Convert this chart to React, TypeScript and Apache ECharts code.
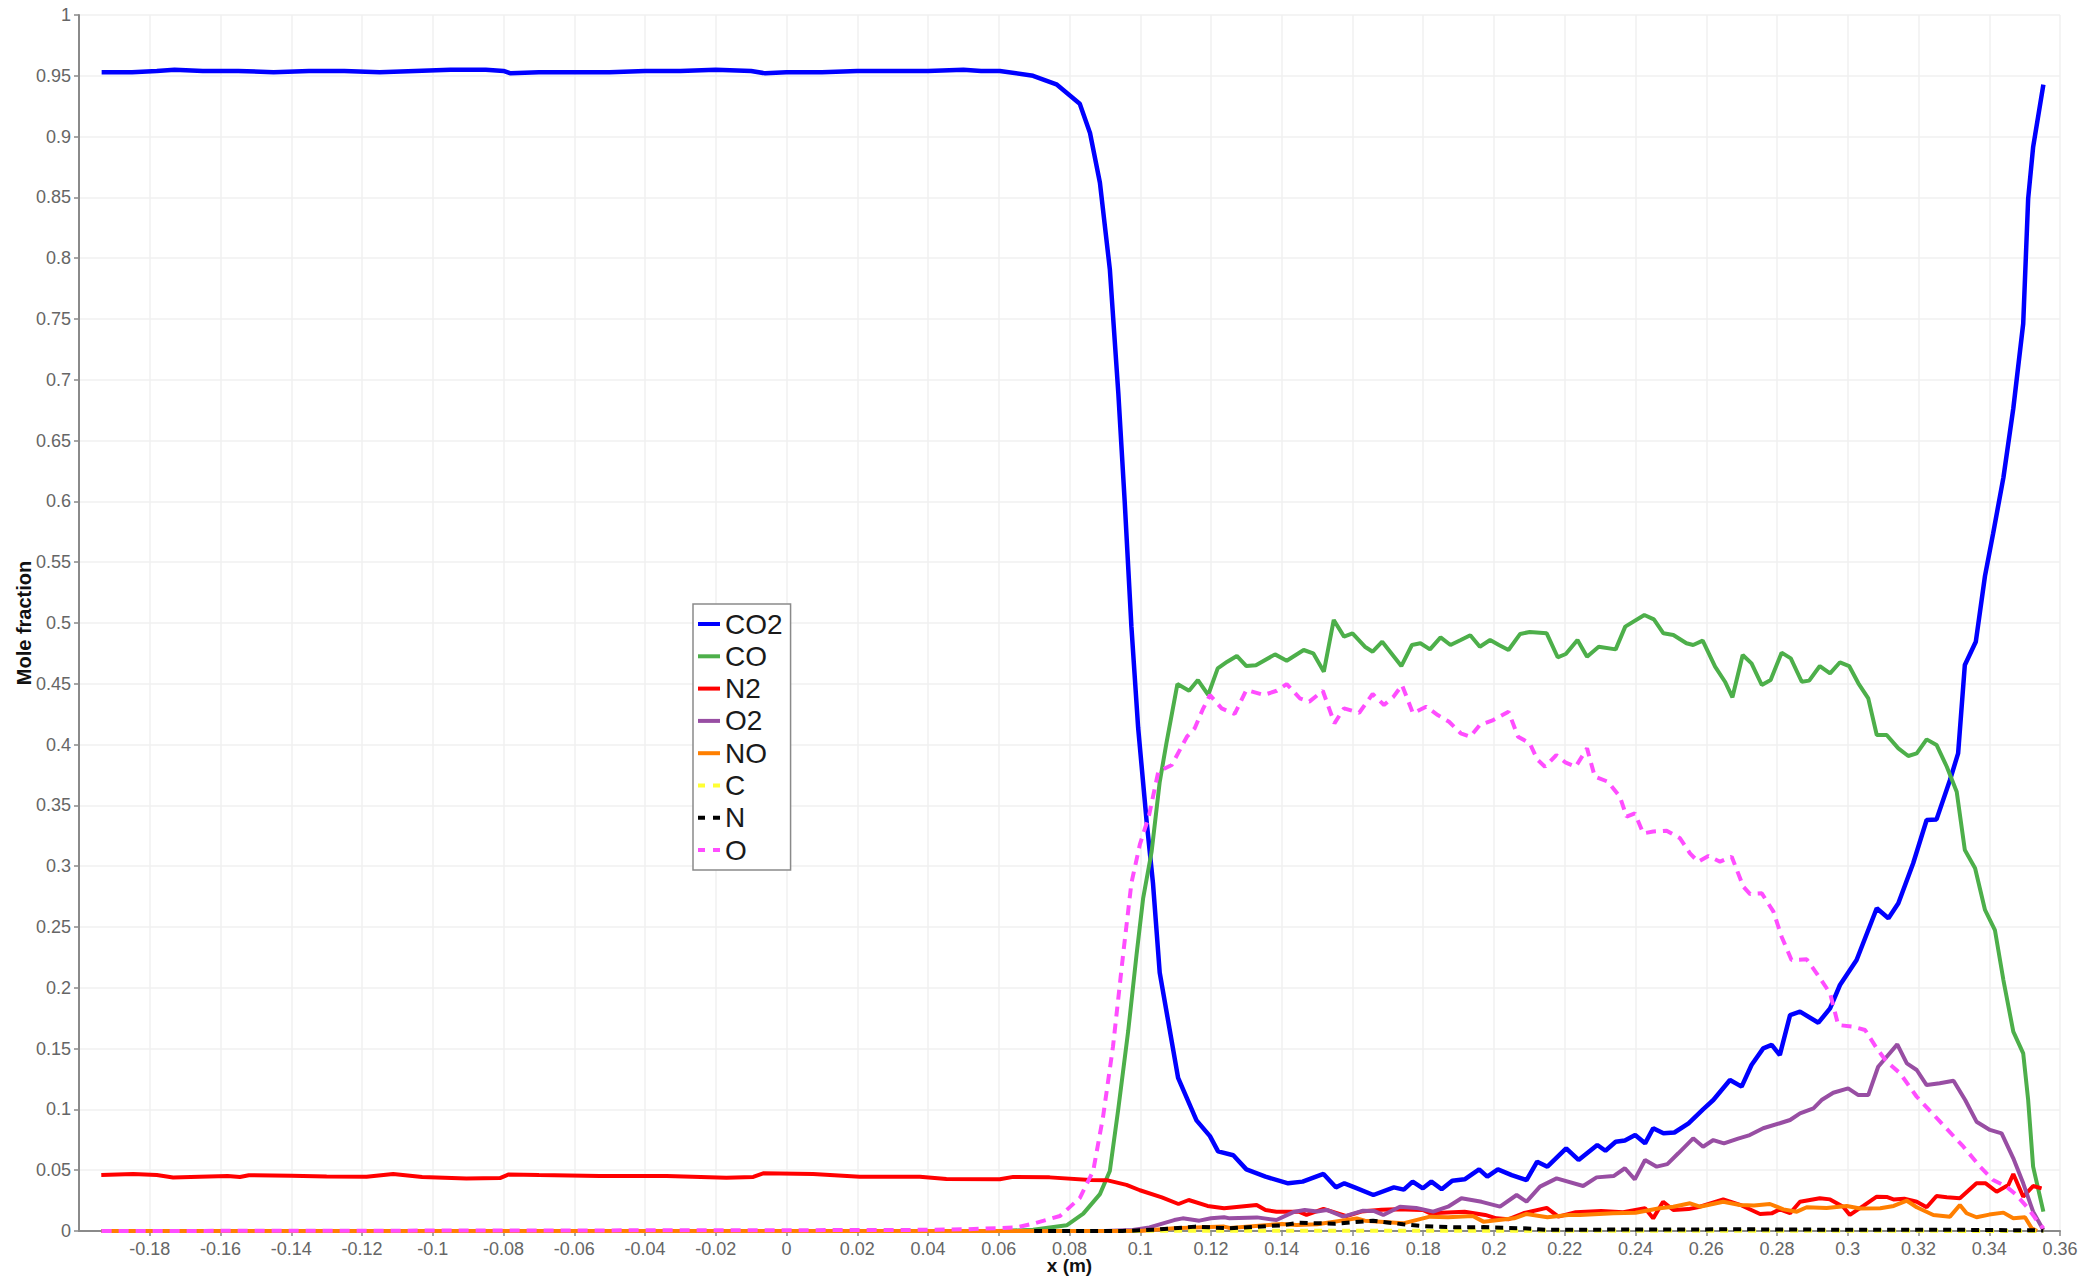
import { useEffect, useRef } from 'react';
import * as echarts from 'echarts';

type Pt = [number, number];

// x ticks (m) and y ticks (mole fraction)
const xMin = -0.2;
const xMax = 0.36;
const xStep = 0.02;
const yMin = 0;
const yMax = 1;
const yStep = 0.05;

const seriesNames = ['CO2', 'CO', 'N2', 'O2', 'NO', 'C', 'N', 'O'];

const co2: Pt[] = [
  [-0.1936, 0.953], [-0.185, 0.953], [-0.178, 0.954], [-0.173, 0.955], [-0.165, 0.954], [-0.155, 0.954],
  [-0.145, 0.953], [-0.135, 0.954], [-0.125, 0.954], [-0.115, 0.953], [-0.105, 0.954], [-0.095, 0.955],
  [-0.085, 0.955], [-0.08, 0.954], [-0.078, 0.952], [-0.07, 0.953], [-0.06, 0.953], [-0.05, 0.953],
  [-0.04, 0.954], [-0.03, 0.954], [-0.02, 0.955], [-0.01, 0.954], [-0.006, 0.952], [0.0, 0.953],
  [0.01, 0.953], [0.02, 0.954], [0.03, 0.954], [0.04, 0.954], [0.05, 0.955], [0.055, 0.954],
  [0.0603, 0.954], [0.0697, 0.95], [0.0763, 0.943], [0.0829, 0.927], [0.0858, 0.903], [0.0886, 0.862],
  [0.0914, 0.791], [0.0938, 0.689], [0.0956, 0.6], [0.0975, 0.497], [0.0994, 0.414], [0.1018, 0.337],
  [0.1036, 0.286], [0.1055, 0.2125], [0.1107, 0.126], [0.1159, 0.091], [0.1197, 0.078], [0.122, 0.0655],
  [0.1263, 0.0623], [0.13, 0.0507], [0.1354, 0.0447], [0.1418, 0.0392], [0.1459, 0.0406], [0.1518, 0.0469],
  [0.1553, 0.0359], [0.1577, 0.0392], [0.1606, 0.0359], [0.1659, 0.0296], [0.1717, 0.0359], [0.1745, 0.034],
  [0.177, 0.0406], [0.1799, 0.0351], [0.1823, 0.0406], [0.1852, 0.0343], [0.1882, 0.0414], [0.1917, 0.0425],
  [0.1958, 0.0507], [0.1981, 0.0447], [0.2011, 0.0507], [0.205, 0.046], [0.2092, 0.0419], [0.2122, 0.057],
  [0.2151, 0.0529], [0.2204, 0.068], [0.2239, 0.0584], [0.2292, 0.0707], [0.2315, 0.066], [0.2344, 0.0734],
  [0.237, 0.0745], [0.2399, 0.0789], [0.2427, 0.0721], [0.245, 0.0845], [0.2479, 0.0803], [0.251, 0.081],
  [0.255, 0.0886], [0.2591, 0.1], [0.262, 0.1077], [0.2667, 0.1242], [0.27, 0.1187], [0.2728, 0.1365],
  [0.2761, 0.1502], [0.2785, 0.153], [0.2808, 0.1447], [0.2837, 0.1776], [0.2865, 0.1804], [0.2917, 0.1713],
  [0.295, 0.1831], [0.2978, 0.2023], [0.3025, 0.2229], [0.3082, 0.2654], [0.3115, 0.2572], [0.3143, 0.2695],
  [0.3185, 0.3024], [0.3223, 0.338], [0.3251, 0.3385], [0.3289, 0.3709], [0.3312, 0.3928], [0.3331, 0.4655],
  [0.3362, 0.4846], [0.3388, 0.5388], [0.3411, 0.5737], [0.344, 0.6196], [0.3468, 0.6765], [0.3496, 0.7462],
  [0.351, 0.849], [0.3524, 0.8913], [0.3553, 0.9427],
];

const co: Pt[] = [
  [-0.1936, 0], [0.06, 0], [0.0697, 0.001], [0.0792, 0.0047], [0.0839, 0.0143], [0.0886, 0.0303],
  [0.0914, 0.0494], [0.0938, 0.1006], [0.0966, 0.1646], [0.099, 0.2285], [0.1008, 0.2733], [0.1032, 0.3117],
  [0.1055, 0.3692], [0.1074, 0.4012], [0.1105, 0.4498], [0.1138, 0.4443], [0.1163, 0.4531], [0.1192, 0.4408],
  [0.1219, 0.4627], [0.1246, 0.4682], [0.1273, 0.4729], [0.13, 0.4646], [0.1327, 0.4652], [0.1381, 0.4742],
  [0.1414, 0.469], [0.1462, 0.4778], [0.1489, 0.4751], [0.1519, 0.46], [0.1547, 0.5025], [0.1576, 0.4888],
  [0.16, 0.4915], [0.1635, 0.4805], [0.1657, 0.4764], [0.1684, 0.4846], [0.1738, 0.4646], [0.1768, 0.4819],
  [0.1792, 0.4833], [0.1819, 0.4783], [0.1849, 0.4882], [0.1877, 0.4819], [0.1906, 0.486], [0.1933, 0.4899],
  [0.196, 0.4805], [0.1989, 0.486], [0.2014, 0.4819], [0.2041, 0.4778], [0.2074, 0.491], [0.2101, 0.4926],
  [0.2149, 0.4915], [0.218, 0.4718], [0.2203, 0.4745], [0.2236, 0.486], [0.2263, 0.4723], [0.2296, 0.4805],
  [0.2344, 0.4783], [0.2371, 0.497], [0.2425, 0.5066], [0.2452, 0.503], [0.2479, 0.4915], [0.2507, 0.4901],
  [0.2544, 0.4833], [0.2563, 0.4819], [0.259, 0.4855], [0.2625, 0.4641], [0.2653, 0.4517], [0.2674, 0.4389],
  [0.2703, 0.4737], [0.2728, 0.4668], [0.2757, 0.449], [0.2782, 0.4531], [0.2813, 0.4756], [0.2839, 0.4709],
  [0.287, 0.4517], [0.2891, 0.4526], [0.2921, 0.4646], [0.295, 0.4586], [0.2978, 0.4677], [0.3004, 0.4646],
  [0.303, 0.4504], [0.3058, 0.438], [0.3082, 0.4079], [0.311, 0.4079], [0.3143, 0.3969], [0.3171, 0.3906],
  [0.3195, 0.3928], [0.3223, 0.4043], [0.3251, 0.3997], [0.328, 0.3818], [0.3308, 0.3613], [0.3331, 0.3133],
  [0.336, 0.2983], [0.3388, 0.264], [0.3416, 0.2475], [0.344, 0.2064], [0.3468, 0.1639], [0.3496, 0.1461],
  [0.351, 0.1077], [0.3524, 0.0529], [0.3553, 0.0159],
];

const n2: Pt[] = [
  [-0.1937, 0.046], [-0.1847, 0.0469], [-0.178, 0.046], [-0.1734, 0.044], [-0.1659, 0.0447], [-0.158, 0.0452],
  [-0.1545, 0.0444], [-0.152, 0.0458], [-0.14, 0.0455], [-0.13, 0.0449], [-0.1187, 0.0447], [-0.1112, 0.0469],
  [-0.103, 0.0445], [-0.0905, 0.0432], [-0.081, 0.0435], [-0.0785, 0.0465], [-0.07, 0.046], [-0.0528, 0.0452],
  [-0.0339, 0.0452], [-0.017, 0.0438], [-0.0094, 0.0445], [-0.0066, 0.0474], [0.0075, 0.0469], [0.0207, 0.0447],
  [0.0377, 0.0447], [0.0452, 0.0428], [0.0603, 0.0425], [0.0641, 0.0445], [0.0744, 0.0441], [0.0858, 0.042],
  [0.0905, 0.0418], [0.0961, 0.0379], [0.0999, 0.0335], [0.1061, 0.0277], [0.1108, 0.0222], [0.1137, 0.0255],
  [0.119, 0.0206], [0.1237, 0.0187], [0.1329, 0.0214], [0.1354, 0.0173], [0.1385, 0.0159], [0.1448, 0.0159],
  [0.147, 0.0132], [0.1518, 0.0182], [0.1583, 0.0123], [0.1625, 0.016], [0.1682, 0.0175], [0.1725, 0.0178],
  [0.1799, 0.0173], [0.1819, 0.0146], [0.1917, 0.0159], [0.1975, 0.0132], [0.2007, 0.0104], [0.204, 0.0096],
  [0.2083, 0.0146], [0.2149, 0.019], [0.2182, 0.0118], [0.2231, 0.0155], [0.2303, 0.0165], [0.2365, 0.0155],
  [0.2427, 0.0187], [0.245, 0.0104], [0.2478, 0.0241], [0.2507, 0.0173], [0.255, 0.018], [0.2582, 0.02],
  [0.2648, 0.026], [0.27, 0.021], [0.2752, 0.014], [0.2785, 0.0145], [0.2808, 0.0178], [0.2837, 0.0146],
  [0.2865, 0.0241], [0.2921, 0.0269], [0.295, 0.026], [0.2987, 0.02], [0.3006, 0.0132], [0.3044, 0.0206],
  [0.3082, 0.0282], [0.311, 0.028], [0.3129, 0.026], [0.316, 0.0265], [0.3195, 0.0241], [0.3223, 0.0195],
  [0.3251, 0.0288], [0.328, 0.0278], [0.3317, 0.0269], [0.3364, 0.0392], [0.339, 0.0392], [0.3421, 0.0323],
  [0.3454, 0.0378], [0.3468, 0.0469], [0.3496, 0.0282], [0.3524, 0.037], [0.3548, 0.0351],
];

const o2: Pt[] = [
  [-0.1936, 0], [0.09, 0], [0.0979, 0.0008], [0.1026, 0.003], [0.1096, 0.009], [0.112, 0.0104],
  [0.1167, 0.0085], [0.12, 0.0105], [0.1237, 0.0113], [0.1253, 0.0104], [0.133, 0.0112], [0.1385, 0.009],
  [0.1436, 0.0159], [0.1465, 0.0173], [0.15, 0.016], [0.1527, 0.0173], [0.1574, 0.0118], [0.163, 0.0167],
  [0.166, 0.0165], [0.1687, 0.0132], [0.1734, 0.02], [0.178, 0.019], [0.1828, 0.0159], [0.187, 0.02],
  [0.1908, 0.0269], [0.1965, 0.024], [0.2017, 0.02], [0.2064, 0.0296], [0.2092, 0.0241], [0.213, 0.0365],
  [0.2177, 0.0433], [0.2252, 0.037], [0.229, 0.0441], [0.2338, 0.0452], [0.237, 0.0516], [0.2398, 0.0425],
  [0.2427, 0.0584], [0.246, 0.0529], [0.249, 0.055], [0.2521, 0.0639], [0.2563, 0.0762], [0.2591, 0.0693],
  [0.262, 0.0748], [0.265, 0.072], [0.269, 0.076], [0.2723, 0.0789], [0.2761, 0.0845], [0.2808, 0.0886],
  [0.2837, 0.0913], [0.2865, 0.0968], [0.2903, 0.1009], [0.2926, 0.1077], [0.2959, 0.1137], [0.3001, 0.1173],
  [0.303, 0.1118], [0.3058, 0.1118], [0.3086, 0.1351], [0.3115, 0.145], [0.314, 0.1535], [0.3167, 0.1379],
  [0.3195, 0.1324], [0.3223, 0.12], [0.326, 0.1215], [0.3299, 0.1236], [0.3332, 0.1077], [0.3364, 0.0899],
  [0.3402, 0.0831], [0.3435, 0.0803], [0.3468, 0.0598], [0.3496, 0.0392], [0.3524, 0.0159], [0.3553, 0.0008],
];

const no: Pt[] = [
  [-0.1936, 0], [0.1, 0], [0.1096, 0.0022], [0.1237, 0.0036], [0.1253, 0.0025], [0.1401, 0.0058],
  [0.1442, 0.0049], [0.15, 0.0055], [0.1612, 0.0104], [0.1635, 0.0085], [0.1743, 0.0063], [0.1819, 0.0118],
  [0.187, 0.0113], [0.194, 0.0123], [0.197, 0.0077], [0.2057, 0.0104], [0.2092, 0.014], [0.2151, 0.0113],
  [0.221, 0.0132], [0.2243, 0.0132], [0.2337, 0.0146], [0.24, 0.015], [0.2468, 0.0187], [0.2507, 0.02],
  [0.2554, 0.0228], [0.2582, 0.02], [0.2648, 0.0241], [0.2695, 0.0214], [0.2735, 0.021], [0.278, 0.0222],
  [0.2818, 0.0178], [0.2856, 0.0159], [0.2884, 0.0195], [0.294, 0.019], [0.2997, 0.0206], [0.3035, 0.0185],
  [0.3092, 0.0187], [0.313, 0.0206], [0.3167, 0.0249], [0.3195, 0.0195], [0.3242, 0.0132], [0.3289, 0.0118],
  [0.3317, 0.0214], [0.3336, 0.0146], [0.3364, 0.0113], [0.34, 0.0135], [0.344, 0.0151], [0.3468, 0.0104],
  [0.3501, 0.0113], [0.352, 0.0022], [0.3535, 0],
];

const c: Pt[] = [
  [0.07, 0], [0.08, 0], [0.12, 0.0002], [0.16, 0.0003], [0.2, 0.0002], [0.25, 0.0002],
  [0.3, 0.0002], [0.3553, 0],
];

const n: Pt[] = [
  [0.07, 0], [0.095, 0], [0.104, 0.001], [0.1155, 0.0036], [0.1253, 0.0022], [0.14, 0.0047],
  [0.1448, 0.0068], [0.155, 0.006], [0.1658, 0.0085], [0.1743, 0.0055], [0.18, 0.004], [0.1893, 0.003],
  [0.197, 0.0032], [0.2083, 0.0022], [0.2151, 0.001], [0.24, 0.0012], [0.27, 0.0014], [0.3, 0.001],
  [0.33, 0.001], [0.3553, 0.0005],
];

const o: Pt[] = [
  [-0.1936, 0], [0.032, 0.0008], [0.0509, 0.0014], [0.065, 0.003], [0.0697, 0.006], [0.0773, 0.0123],
  [0.0829, 0.0271], [0.0867, 0.0494], [0.0895, 0.0942], [0.0923, 0.1518], [0.0952, 0.2285], [0.0975, 0.2861],
  [0.0999, 0.318], [0.1024, 0.3407], [0.1051, 0.3777], [0.1089, 0.3832], [0.1132, 0.4065], [0.1154, 0.4134],
  [0.1176, 0.4285], [0.1197, 0.4408], [0.123, 0.4298], [0.1267, 0.4252], [0.13, 0.4449], [0.1349, 0.4408],
  [0.1386, 0.4443], [0.1414, 0.4498], [0.1451, 0.4381], [0.1478, 0.4353], [0.1516, 0.4443], [0.1549, 0.4175],
  [0.1576, 0.4298], [0.1619, 0.4262], [0.1657, 0.4416], [0.1689, 0.4326], [0.1716, 0.4394], [0.174, 0.449],
  [0.1771, 0.4257], [0.1808, 0.4312], [0.1841, 0.4243], [0.1873, 0.4188], [0.1906, 0.4093], [0.1933, 0.4065],
  [0.196, 0.4161], [0.1998, 0.4202], [0.2041, 0.4271], [0.2068, 0.4065], [0.2101, 0.4011], [0.2122, 0.3879],
  [0.2144, 0.3818], [0.2176, 0.3914], [0.2203, 0.3851], [0.2231, 0.3818], [0.2263, 0.3969], [0.2285, 0.3736],
  [0.2322, 0.3695], [0.2356, 0.3571], [0.2375, 0.3407], [0.2398, 0.3435], [0.2422, 0.327], [0.245, 0.3285],
  [0.2488, 0.3292], [0.2526, 0.3229], [0.2554, 0.3106], [0.2577, 0.3037], [0.2606, 0.3084], [0.2639, 0.3037],
  [0.2672, 0.3078], [0.2705, 0.2831], [0.2724, 0.2771], [0.2757, 0.2777], [0.279, 0.2626], [0.2813, 0.242],
  [0.2841, 0.2229], [0.2884, 0.2234], [0.2912, 0.2119], [0.295, 0.1955], [0.2973, 0.1694], [0.3016, 0.168],
  [0.3049, 0.1653], [0.3082, 0.1502], [0.311, 0.1392], [0.3148, 0.1297], [0.3195, 0.1104], [0.3261, 0.0899],
  [0.3327, 0.0693], [0.3374, 0.0529], [0.3411, 0.0419], [0.3449, 0.0364], [0.3477, 0.0296], [0.3506, 0.02],
  [0.3534, 0.009], [0.3553, 0.0022],
];

const seriesData: Pt[][] = [co2, co, n2, o2, no, c, n, o];
const seriesColors = ['#0000ff', '#4daf4a', '#ff0000', '#984ea3', '#ff7f00', '#ffff33', '#000000', '#ff4dff'];
const seriesDashed = [false, false, false, false, false, true, true, true];
const seriesWidth = [4.5, 4, 4, 4, 4, 4, 4, 4];

const SOLID_ICON = 'path://M0,0H22V4H0Z';
const DASH_ICON = 'path://M0,0H7V4H0Z M15,0H22V4H15Z';

const FONT = '"Liberation Sans", Arial, sans-serif';

export default function App() {
  const ref = useRef<HTMLDivElement>(null);

  useEffect(() => {
    if (!ref.current) return;
    const chart = echarts.init(ref.current, undefined, { renderer: 'svg' });
    chart.setOption({
      animation: false,
      backgroundColor: '#ffffff',
      grid: { left: 79, right: 32, top: 15, bottom: 46, containLabel: false, outerBoundsMode: 'none' },
      legend: {
        orient: 'vertical',
        left: 693,
        top: 604,
        data: seriesNames.map((name, i) => ({
          name,
          icon: seriesDashed[i] ? DASH_ICON : SOLID_ICON,
          itemStyle: { color: seriesColors[i] },
        })),
        itemWidth: 22,
        itemHeight: 4,
        itemGap: 4.3,
        padding: [6, 8, 6, 5],
        backgroundColor: '#ffffff',
        borderColor: '#8a8a8a',
        borderWidth: 1.5,
        textStyle: { fontSize: 28, lineHeight: 28, color: '#1a1a1a', fontFamily: FONT },
      },
      xAxis: {
        type: 'value',
        min: xMin,
        max: xMax,
        interval: xStep,
        name: 'x (m)',
        nameLocation: 'middle',
        nameGap: 25,
        nameMoveOverlap: false,
        nameTextStyle: { fontSize: 19, fontWeight: 'bold', color: '#111', fontFamily: FONT },
        axisLine: { show: true, onZero: false, lineStyle: { color: '#8a8a8a', width: 2 } },
        axisTick: { show: true, length: 5, lineStyle: { color: '#8a8a8a', width: 1.5 } },
        axisLabel: { showMinLabel: false, fontSize: 18, color: '#666', margin: 9, fontFamily: FONT },
        splitLine: { show: true, lineStyle: { color: '#f1f1f1', width: 1.5 } },
      },
      yAxis: {
        type: 'value',
        min: yMin,
        max: yMax,
        interval: yStep,
        name: 'Mole fraction',
        nameLocation: 'middle',
        nameGap: 45,
        nameMoveOverlap: false,
        nameTextStyle: { fontSize: 20, fontWeight: 'bold', color: '#111', fontFamily: FONT },
        axisLine: { show: true, onZero: false, lineStyle: { color: '#8a8a8a', width: 2 } },
        axisTick: { show: true, length: 5, lineStyle: { color: '#8a8a8a', width: 1.5 } },
        axisLabel: { fontSize: 18, color: '#666', margin: 8, fontFamily: FONT },
        splitLine: { show: true, lineStyle: { color: '#f1f1f1', width: 1.5 } },
      },
      series: seriesNames.map((name, i) => ({
        name,
        type: 'line',
        data: seriesData[i],
        symbol: 'none',
        showSymbol: false,
        smooth: false,
        clip: true,
        z: 2 + i,
        itemStyle: { color: seriesColors[i] },
        lineStyle: {
          color: seriesColors[i],
          width: seriesWidth[i],
          type: seriesDashed[i] ? (name === 'O' ? [10, 7] : [8, 6]) : 'solid',
        },
        emphasis: { disabled: true },
      })),
    });
    return () => chart.dispose();
  }, []);

  return (
    <div
      ref={ref}
      style={{ position: 'fixed', left: 0, top: 0, width: 2092, height: 1277, background: '#fff' }}
    />
  );
}
